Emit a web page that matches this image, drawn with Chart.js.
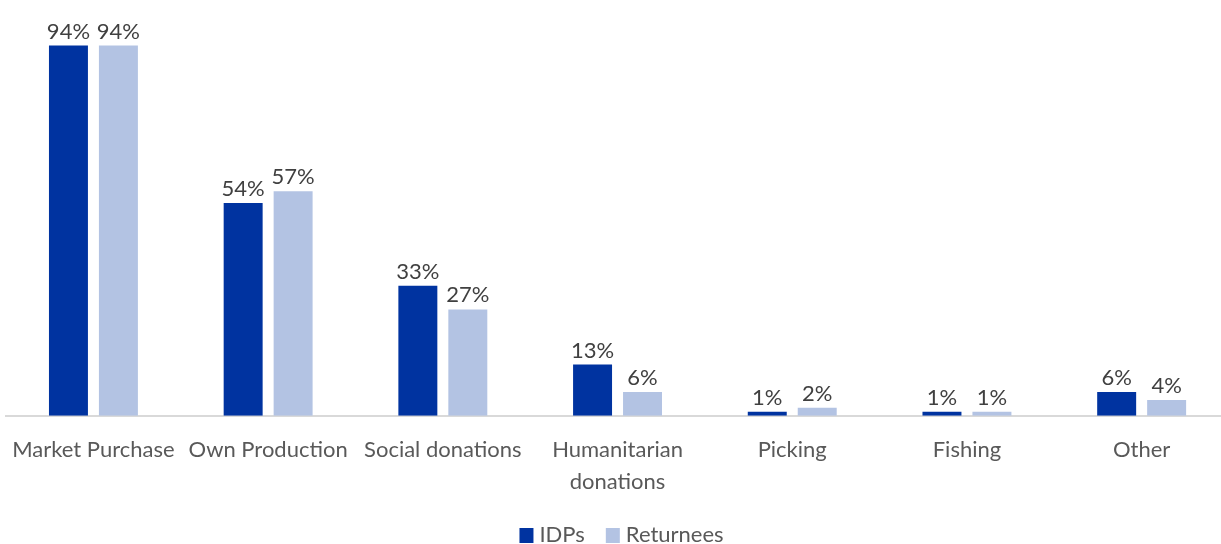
<!DOCTYPE html>
<html>
<head>
<meta charset="utf-8">
<script src="https://cdn.jsdelivr.net/npm/chart.js@4.4.1/dist/chart.umd.min.js"></script>
<style>
    html, body { margin: 0; padding: 0; background: #fff; overflow: hidden; }
    #wrap { position: relative; left: -6px; width: 1237px; height: 544px; }
</style>
</head>
<body>
<div id="wrap"><canvas id="food-sources"></canvas></div>
<script>
const categories = ['Market Purchase', 'Own Production', 'Social donations', ['Humanitarian', 'donations'], 'Picking', 'Fishing', 'Other'];
const idps = [94, 54, 33, 13, 1, 1, 6];
const returnees = [94, 57, 27, 6, 2, 1, 4];

// value labels above each bar
const barLabels = {
    id: 'barLabels',
    afterDatasetsDraw(chart) {
        const ctx = chart.ctx;
        ctx.save();
        ctx.font = '22px Lato';
        ctx.fillStyle = '#404040';
        ctx.textAlign = 'center';
        ctx.textBaseline = 'alphabetic';
        chart.data.datasets.forEach((ds, i) => {
            chart.getDatasetMeta(i).data.forEach((bar, j) => {
                ctx.fillText(ds.data[j] + '%', bar.x, bar.y - 7);
            });
        });
        ctx.restore();
    }
};

// legend row under the axis labels: square swatch, name, wide gap
const bottomLegend = {
    id: 'bottomLegend',
    afterDraw(chart) {
        const ctx = chart.ctx;
        const area = chart.chartArea;
        const box = 14, gap = 6, spacing = 21;
        ctx.save();
        ctx.font = '22px Lato';
        ctx.textBaseline = 'middle';
        ctx.textAlign = 'left';
        const items = chart.data.datasets.map(ds => ({
            text: ds.label,
            color: ds.backgroundColor,
            w: box + gap + ctx.measureText(ds.label).width
        }));
        const total = items.reduce((s, it) => s + it.w, 0) + spacing * (items.length - 1);
        let x = (area.left + area.right) / 2 + 4 - total / 2;
        const y = 535;
        items.forEach(it => {
            ctx.fillStyle = it.color;
            ctx.fillRect(x, y - box / 2, box, box + 1);
            ctx.fillStyle = '#595959';
            ctx.fillText(it.text, x + box + gap, y);
            x += it.w + spacing;
        });
        ctx.restore();
    }
};

document.addEventListener('DOMContentLoaded', () => {
    const el = document.getElementById('food-sources');

    new Chart(el, {
        type: 'bar',
        data: {
            labels: categories,
            datasets: [{
                label: 'IDPs',
                data: idps,
                backgroundColor: '#0033A0',
                categoryPercentage: 0.572,
                barPercentage: 0.78
            }, {
                label: 'Returnees',
                data: returnees,
                backgroundColor: '#B3C3E3',
                categoryPercentage: 0.572,
                barPercentage: 0.78
            }]
        },
        options: {
            responsive: true,
            maintainAspectRatio: false,
            animation: false,
            layout: {
                padding: { top: 22, left: 3, right: 2, bottom: 28.5 }
            },
            scales: {
                y: {
                    display: false,
                    min: 0,
                    max: 100
                },
                x: {
                    grid: { display: false, drawTicks: false },
                    border: { color: '#D9D9D9', width: 2 },
                    ticks: {
                        color: '#595959',
                        font: { family: 'Lato', size: 22, lineHeight: 1.45 },
                        padding: 18,
                        maxRotation: 0,
                        autoSkip: false
                    }
                }
            },
            plugins: {
                legend: { display: false },
                tooltip: { enabled: false }
            }
        },
        plugins: [barLabels, bottomLegend]
    });
});
</script>
</body>
</html>
